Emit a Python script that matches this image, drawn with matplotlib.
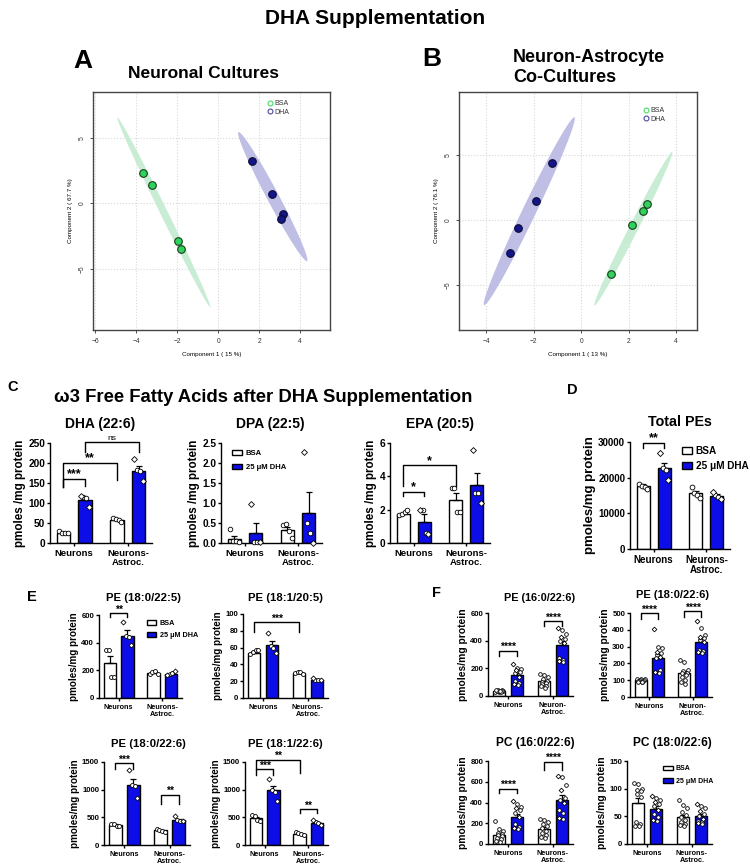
import numpy as np
import matplotlib
matplotlib.use("Agg")
import matplotlib.pyplot as plt
from matplotlib.patches import Patch, Polygon
from matplotlib.lines import Line2D

plt.rcParams['font.family'] = ['Liberation Sans', 'DejaVu Sans']

W, H = 750, 867
BLUE = '#0d0de8'
GREEN_FILL = '#c4ecd0'
GREEN_PT = '#2fd35c'
PURPLE_FILL = '#b8b8e4'
NAVY_PT = '#15158a'

# --- Panel A: scores, neuronal cultures ---
A_BSA_X = [-3.64, -3.24, -1.97, -1.80]
A_BSA_Y = [2.35, 1.43, -2.90, -3.46]
A_DHA_X = [1.67, 2.62, 3.14, 3.07]
A_DHA_Y = [3.26, 0.72, -0.77, -1.15]
A_BSA_ELL = [(-4.91, 6.56), (-0.39, -7.90)]
A_DHA_ELL = [(0.99, 5.44), (4.33, -4.40)]

# --- Panel B: scores, neuron-astrocyte co-cultures ---
B_BSA_X = [2.77, 2.62, 2.16, 1.28]
B_BSA_Y = [1.20, 0.72, -0.41, -4.15]
B_DHA_X = [-1.23, -1.89, -2.64, -2.99]
B_DHA_Y = [4.36, 1.46, -0.64, -2.50]
B_BSA_ELL = [(3.84, 5.25), (0.56, -6.59)]
B_DHA_ELL = [(-0.28, 7.90), (-4.08, -6.54)]

# bar order: BSA neurons, DHA neurons, BSA neuron-astro, DHA neuron-astro
DHA226_MEAN = [25, 107, 57, 180]
DHA226_SEM = [2, 5, 2, 12]
DHA226_PTS = [[30, 26, 25, 24], [117, 114, 112, 91], [62, 60, 58, 53], [209, 182, 180, 155]]

DPA225_MEAN = [0.10, 0.26, 0.33, 0.76]
DPA225_SEM = [0.08, 0.25, 0.07, 0.52]
DPA225_PTS = [[0.36, 0.05, 0.04, 0.03], [0.98, 0.03, 0.02, 0.02], [0.45, 0.48, 0.30, 0.12], [2.28, 0.50, 0.25, 0.0]]

EPA205_MEAN = [1.75, 1.28, 2.56, 3.48]
EPA205_SEM = [0.08, 0.44, 0.44, 0.72]
EPA205_PTS = [[1.70, 1.75, 1.85, 2.00], [2.00, 2.00, 0.60, 0.55], [3.30, 3.30, 1.85, 1.85], [5.55, 3.00, 3.00, 2.40]]

TOTPE_MEAN = [17800, 22700, 15700, 15000]
TOTPE_SEM = [300, 1500, 600, 400]
TOTPE_PTS = [[18200, 17800, 17500, 16900], [26900, 22700, 22200, 19400], [17300, 15800, 15200, 14200], [16000, 15200, 14700, 14100]]

PE180225_MEAN = [250, 450, 180, 170]
PE180225_SEM = [52, 40, 8, 6]
PE180225_PTS = [[345, 350, 150, 155], [550, 450, 440, 380], [175, 190, 195, 170], [165, 170, 180, 195]]

PE181205_MEAN = [54, 63, 30, 22]
PE181205_SEM = [1.5, 5, 1, 0.8]
PE181205_PTS = [[52, 55, 57, 57], [77, 62, 60, 53], [30, 31, 31, 28], [24, 22, 21, 21]]

PE180226_MEAN = [360, 1080, 265, 450]
PE180226_SEM = [15, 105, 12, 25]
PE180226_PTS = [[380, 375, 340, 345], [1350, 1090, 1060, 850], [290, 280, 250, 240], [520, 460, 440, 430]]

PE181226_MEAN = [480, 990, 200, 400]
PE181226_SEM = [22, 80, 12, 15]
PE181226_PTS = [[540, 520, 460, 430], [1200, 1000, 960, 800], [230, 210, 190, 175], [460, 410, 390, 370]]

F_PE160226_MEAN = [35, 150, 106, 370]
F_PE160226_SEM = [2, 18, 10, 28]
F_PE160226_PTS = [[30, 32, 35, 38, 40, 42, 36, 33, 28, 44, 37],
                  [230, 200, 195, 185, 175, 165, 140, 110, 95, 85, 80],
                  [160, 150, 140, 125, 110, 100, 95, 85, 75, 70, 60],
                  [490, 475, 445, 430, 410, 395, 380, 275, 262, 250, 245]]

F_PE180226_MEAN = [100, 230, 140, 326]
F_PE180226_SEM = [3, 25, 14, 20]
F_PE180226_PTS = [[110, 108, 105, 102, 100, 98, 96, 95, 92, 90, 88],
                  [405, 300, 290, 270, 260, 250, 240, 230, 160, 150, 140],
                  [220, 210, 160, 155, 145, 140, 130, 120, 100, 90, 80],
                  [450, 410, 370, 360, 350, 340, 330, 280, 275, 270, 260]]

F_PC160226_MEAN = [90, 260, 147, 425]
F_PC160226_SEM = [18, 30, 18, 45]
F_PC160226_PTS = [[220, 140, 125, 110, 100, 90, 75, 60, 45, 30, 20],
                  [410, 390, 360, 345, 330, 300, 260, 190, 160, 150, 140],
                  [245, 230, 210, 190, 170, 150, 130, 110, 90, 70, 60],
                  [660, 645, 570, 520, 440, 420, 395, 330, 300, 250, 240]]

F_PC180226_MEAN = [75, 64, 49, 51]
F_PC180226_SEM = [9, 5, 4, 3.5]
F_PC180226_PTS = [[110, 108, 100, 98, 95, 90, 85, 40, 36, 33, 32],
                  [87, 84, 80, 76, 72, 68, 62, 55, 48, 44, 42],
                  [80, 70, 65, 58, 52, 48, 44, 40, 37, 35, 33],
                  [73, 68, 65, 60, 55, 50, 45, 42, 40, 38, 36]]

# brackets: (bar_i, bar_j, y_top, y_left_end, y_right_end, label)
DHA226_BR = [(0, 1, 160, 140, 143, '***'), (0, 2, 200, 140, 157, '**'), (1, 3, 252, 228, 228, 'ns')]
EPA205_BR = [(0, 1, 3.06, 2.8, 2.8, '*'), (0, 2, 4.66, 3.4, 3.4, '*')]
TOTPE_BR = [(0, 1, 29700, 28300, 28300, '**')]
PE180225_BR = [(0, 1, 612, 583, 583, '**')]
PE181205_BR = [(0, 2, 90, 79, 79, '***')]
PE180226_BR = [(0, 1, 1480, 1373, 1373, '***'), (2, 3, 907, 738, 738, '**')]
PE181226_BR = [(0, 1, 1373, 1270, 1270, '***'), (0, 2, 1542, 1373, 1300, '**'), (2, 3, 647, 575, 575, '**')]
F_PE160226_BR = [(0, 1, 326, 290, 290, '****'), (2, 3, 540, 503, 503, '****')]
F_PE180226_BR = [(0, 1, 500, 466, 466, '****'), (2, 3, 510, 474, 474, '****')]
F_PC160226_BR = [(0, 1, 531, 490, 490, '****'), (2, 3, 794, 714, 714, '****')]

XLAB_S = ['Neurons', 'Neurons-\nAstroc.']
XLAB_F = ['Neurons', 'Neuron-\nAstroc.']

fig = plt.figure(figsize=(W / 100, H / 100), dpi=100)


def px_axes(l, t, r, b):
    return fig.add_axes([l / W, 1 - b / H, (r - l) / W, (b - t) / H])


def ftext(x, y, s, size, ha='center', va='center', weight='bold'):
    fig.text(x / W, 1 - y / H, s, fontsize=size, ha=ha, va=va, fontweight=weight)


def bar_x(i):
    return (i // 2) + (-0.2 if i % 2 == 0 else 0.2)


def ellipse(ax, ends, half_px, color):
    a = ax.transData.transform(ends[0])
    b = ax.transData.transform(ends[1])
    c = (a + b) / 2
    u = (b - a) / 2
    v = np.array([-u[1], u[0]]) / np.hypot(*u) * half_px
    t = np.linspace(0, 2 * np.pi, 120)
    pts = c + np.outer(np.cos(t), u) + np.outer(np.sin(t), v)
    ax.add_patch(Polygon(ax.transData.inverted().transform(pts), closed=True,
                         facecolor=color, edgecolor='none', alpha=0.9, zorder=1))


def score_panel(rect, xlim, ylim, xticks, bsa, dha, ells, xlabel, ylabel, leg_xy):
    ax = px_axes(*rect)
    ax.set_xlim(*xlim)
    ax.set_ylim(*ylim)
    ax.set_xticks(xticks)
    ax.set_yticks([-5, 0, 5])
    ax.grid(True, color='#d8d8d8', linestyle=':', linewidth=0.8)
    ax.set_axisbelow(True)
    for s in ax.spines.values():
        s.set_color('#444444')
        s.set_linewidth(1.0)
    ax.tick_params(labelsize=4.8, length=2, width=0.6, colors='#333333')
    for lab in ax.get_yticklabels():
        lab.set_rotation(90)
        lab.set_va('center')
    ellipse(ax, ells[0], ells[2], GREEN_FILL)
    ellipse(ax, ells[1], ells[3], PURPLE_FILL)
    ax.scatter(bsa[0], bsa[1], s=30, facecolor=GREEN_PT, edgecolor='#1a3a1a', linewidths=0.8, zorder=3)
    ax.scatter(dha[0], dha[1], s=30, facecolor=NAVY_PT, edgecolor='#0a0a30', linewidths=0.8, zorder=3)
    ax.set_xlabel(xlabel, fontsize=4.5, labelpad=5)
    ax.set_ylabel(ylabel, fontsize=4.5, labelpad=4)
    handles = [Line2D([], [], marker='o', ls='none', mfc='none', mec='#44dd66', ms=3.5, mew=0.8),
               Line2D([], [], marker='o', ls='none', mfc='none', mec='#4a4aa0', ms=3.5, mew=0.8)]
    ax.legend(handles, ['BSA', 'DHA'], loc='upper left', bbox_to_anchor=(leg_xy[0] / W, 1 - leg_xy[1] / H),
              bbox_transform=fig.transFigure, frameon=False, fontsize=5, handletextpad=0.1,
              labelspacing=0.2, borderpad=0, handlelength=1.0, labelcolor='#333333')
    return ax


def bar_panel(rect, means, sems, pts, yticks, ylabel, xlabels, brackets, st, fmt=None, legend=None):
    ax = px_axes(*rect)
    ax.set_xlim(-0.45, 1.45)
    ax.set_ylim(0, yticks[-1])
    for i in range(4):
        x = bar_x(i)
        dha = i % 2 == 1
        ax.bar(x, means[i], width=st['bw'], color=BLUE if dha else 'white', edgecolor='black',
               linewidth=1.0, zorder=2)
        ax.errorbar(x, means[i], yerr=[[0], [sems[i]]], fmt='none', ecolor='black',
                    elinewidth=0.9, capsize=st['cap'], capthick=0.9, zorder=3)
        vals = np.array(pts[i], dtype=float)
        n = len(vals)
        offs = np.linspace(-0.32, 0.32, n) * st['bw']
        offs = offs[[(k * 5) % n for k in range(n)]]
        if dha:
            dia = np.arange(n) % 3 == 0
        else:
            dia = np.zeros(n, bool)
        ax.scatter(x + offs[~dia], vals[~dia], s=st['ms'], marker='o', facecolor='white',
                   edgecolor='black', linewidths=0.6, zorder=4, clip_on=False)
        ax.scatter(x + offs[dia], vals[dia], s=st['ms'] * 0.8, marker='D', facecolor='white',
                   edgecolor='black', linewidths=0.6, zorder=4, clip_on=False)
    for i, j, y, yl, yr, lab in brackets:
        x1, x2 = bar_x(i), bar_x(j)
        ax.plot([x1, x1, x2, x2], [yl, y, y, yr], color='black', lw=1.0, clip_on=False, zorder=5)
        if lab == 'ns':
            ax.annotate(lab, ((x1 + x2) / 2, y), xytext=(0, 0), textcoords='offset points',
                        ha='center', va='bottom', fontsize=st['star'] * 0.68, annotation_clip=False)
        else:
            ax.annotate(lab, ((x1 + x2) / 2, y), xytext=(0, -1), textcoords='offset points',
                        ha='center', va='bottom', fontsize=st['star'], fontweight='bold',
                        annotation_clip=False)
    ax.spines['top'].set_visible(False)
    ax.spines['right'].set_visible(False)
    for s in ('left', 'bottom'):
        ax.spines[s].set_linewidth(1.0)
    ax.set_yticks(yticks)
    if fmt:
        ax.set_yticklabels([fmt.format(v) for v in yticks])
    ax.set_xticks([0, 1])
    ax.set_xticklabels(xlabels, linespacing=1.0)
    ax.tick_params(axis='y', labelsize=st['tick'], length=2.5, width=1.0, pad=1)
    ax.tick_params(axis='x', labelsize=st['xtick'], length=2.5, width=1.0, pad=1.5)
    for lab in ax.get_xticklabels() + ax.get_yticklabels():
        lab.set_fontweight('bold')
    ax.set_ylabel(ylabel, fontsize=st['ylab'], fontweight='bold', labelpad=1.5)
    if legend:
        handles = [Patch(facecolor='white', edgecolor='black', linewidth=1.0),
                   Patch(facecolor=BLUE, edgecolor='black', linewidth=1.0)]
        ax.legend(handles, ['BSA', '25 μM DHA'], loc='upper left',
                  bbox_to_anchor=(legend[0] / W, 1 - legend[1] / H), bbox_transform=fig.transFigure,
                  frameon=False, prop={'size': st['leg'], 'weight': 'bold'}, handlelength=legend[3],
                  handleheight=0.7, handletextpad=legend[4], labelspacing=legend[2], borderpad=0)
    return ax


ST_C = dict(bw=0.25, cap=2.5, ms=11, star=9, tick=7.3, xtick=6.8, ylab=8.4, leg=5.5)
ST_D = dict(bw=0.25, cap=2.5, ms=12, star=9, tick=7, xtick=7, ylab=9.5, leg=7.2)
ST_E = dict(bw=0.28, cap=2, ms=8, star=7.5, tick=5.6, xtick=5.2, ylab=7.1, leg=5.2)
ST_F = dict(bw=0.28, cap=2, ms=7, star=7.5, tick=5.6, xtick=5.2, ylab=7.4, leg=5.0)

# --- figure title and panel labels ---
ftext(375, 18, 'DHA Supplementation', 15)
ftext(83, 61, 'A', 19)
ftext(432, 59, 'B', 19)
ftext(203, 73, 'Neuronal Cultures', 12.5)
ftext(513, 57, 'Neuron-Astrocyte', 13, ha='left')
ftext(513, 78, 'Co-Cultures', 13, ha='left')

score_panel((93, 92, 330, 330), (-6.1, 5.45), (-9.65, 8.5), [-6, -4, -2, 0, 2, 4],
            (A_BSA_X, A_BSA_Y), (A_DHA_X, A_DHA_Y), (A_BSA_ELL, A_DHA_ELL, 3.7, 6.0),
            'Component 1 ( 15 %)', 'Component 2 ( 67.7 %)', (263, 97))
score_panel((459, 92, 697, 330), (-5.14, 4.88), (-8.46, 9.85), [-4, -2, 0, 2, 4],
            (B_BSA_X, B_BSA_Y), (B_DHA_X, B_DHA_Y), (B_BSA_ELL, B_DHA_ELL, 4.5, 6.8),
            'Component 1 ( 13 %)', 'Component 2 ( 76.1 %)', (639, 104))

# --- panel C ---
ftext(7, 387, 'C', 10.5, ha='left')
ftext(263, 397, 'ω3 Free Fatty Acids after DHA Supplementation', 13.3)
ftext(100, 424, 'DHA (22:6)', 10)
ftext(270, 424, 'DPA (22:5)', 10)
ftext(440, 424, 'EPA (20:5)', 10)
bar_panel((50, 443, 152, 543), DHA226_MEAN, DHA226_SEM, DHA226_PTS, [0, 50, 100, 150, 200, 250],
          'pmoles /mg protein', XLAB_S, DHA226_BR, ST_C)
bar_panel((221, 443, 322, 543), DPA225_MEAN, DPA225_SEM, DPA225_PTS, [0, 0.5, 1.0, 1.5, 2.0, 2.5],
          'pmoles /mg protein', XLAB_S, [], ST_C, fmt='{:.1f}', legend=(228, 446, 0.9, 1.3, 0.5))
bar_panel((390, 443, 490, 543), EPA205_MEAN, EPA205_SEM, EPA205_PTS, [0, 2, 4, 6],
          'pmoles /mg protein', XLAB_S, EPA205_BR, ST_C)

# --- panel D ---
ftext(567, 390, 'D', 10.5, ha='left')
ftext(680, 422, 'Total PEs', 10.3)
bar_panel((630, 442, 730, 549), TOTPE_MEAN, TOTPE_SEM, TOTPE_PTS, [0, 10000, 20000, 30000],
          'pmoles/mg protein', XLAB_S, TOTPE_BR, ST_D, legend=(677, 441, 0.5, 1.0, 0.35))

# --- panel E ---
ftext(27, 597, 'E', 10.5, ha='left')
ftext(143, 598, 'PE (18:0/22:5)', 8.2)
ftext(285, 598, 'PE (18:1/20:5)', 8.2)
ftext(148, 744, 'PE (18:0/22:6)', 8.2)
ftext(285, 744, 'PE (18:1/22:6)', 8.2)
bar_panel((99, 615, 182, 698), PE180225_MEAN, PE180225_SEM, PE180225_PTS, [0, 200, 400, 600],
          'pmoles/mg protein', XLAB_S, PE180225_BR, ST_E, legend=(143, 616, 0.75, 1.3, 0.5))
bar_panel((243, 614, 328, 698), PE181205_MEAN, PE181205_SEM, PE181205_PTS, [0, 20, 40, 60, 80, 100],
          'pmoles/mg protein', XLAB_S, PE181205_BR, ST_E)
bar_panel((104, 762, 190, 845), PE180226_MEAN, PE180226_SEM, PE180226_PTS, [0, 500, 1000, 1500],
          'pmoles/mg protein', XLAB_S, PE180226_BR, ST_E)
bar_panel((245, 762, 328, 845), PE181226_MEAN, PE181226_SEM, PE181226_PTS, [0, 500, 1000, 1500],
          'pmoles/mg protein', XLAB_S, PE181226_BR, ST_E)

# --- panel F ---
ftext(432, 593, 'F', 10.5, ha='left')
ftext(540, 598, 'PE (16:0/22:6)', 7.8)
ftext(672, 595, 'PE (18:0/22:6)', 8.0)
ftext(535, 743, 'PC (16:0/22:6)', 8.6)
ftext(672, 743, 'PC (18:0/22:6)', 8.6)
bar_panel((488, 613, 573, 696), F_PE160226_MEAN, F_PE160226_SEM, F_PE160226_PTS, [0, 200, 400, 600],
          'pmoles/mg protein', XLAB_F, F_PE160226_BR, ST_F)
bar_panel((630, 613, 712, 697), F_PE180226_MEAN, F_PE180226_SEM, F_PE180226_PTS, [0, 100, 200, 300, 400, 500],
          'pmoles/mg protein', XLAB_F, F_PE180226_BR, ST_F)
bar_panel((488, 761, 573, 844), F_PC160226_MEAN, F_PC160226_SEM, F_PC160226_PTS, [0, 200, 400, 600, 800],
          'pmoles/mg protein', XLAB_S, F_PC160226_BR, ST_F)
bar_panel((627, 761, 712, 844), F_PC180226_MEAN, F_PC180226_SEM, F_PC180226_PTS, [0, 50, 100, 150],
          'pmoles/mg protein', XLAB_S, [], ST_F, legend=(660, 762, 0.75, 1.3, 0.5))

fig.savefig('out.png', dpi=100)
